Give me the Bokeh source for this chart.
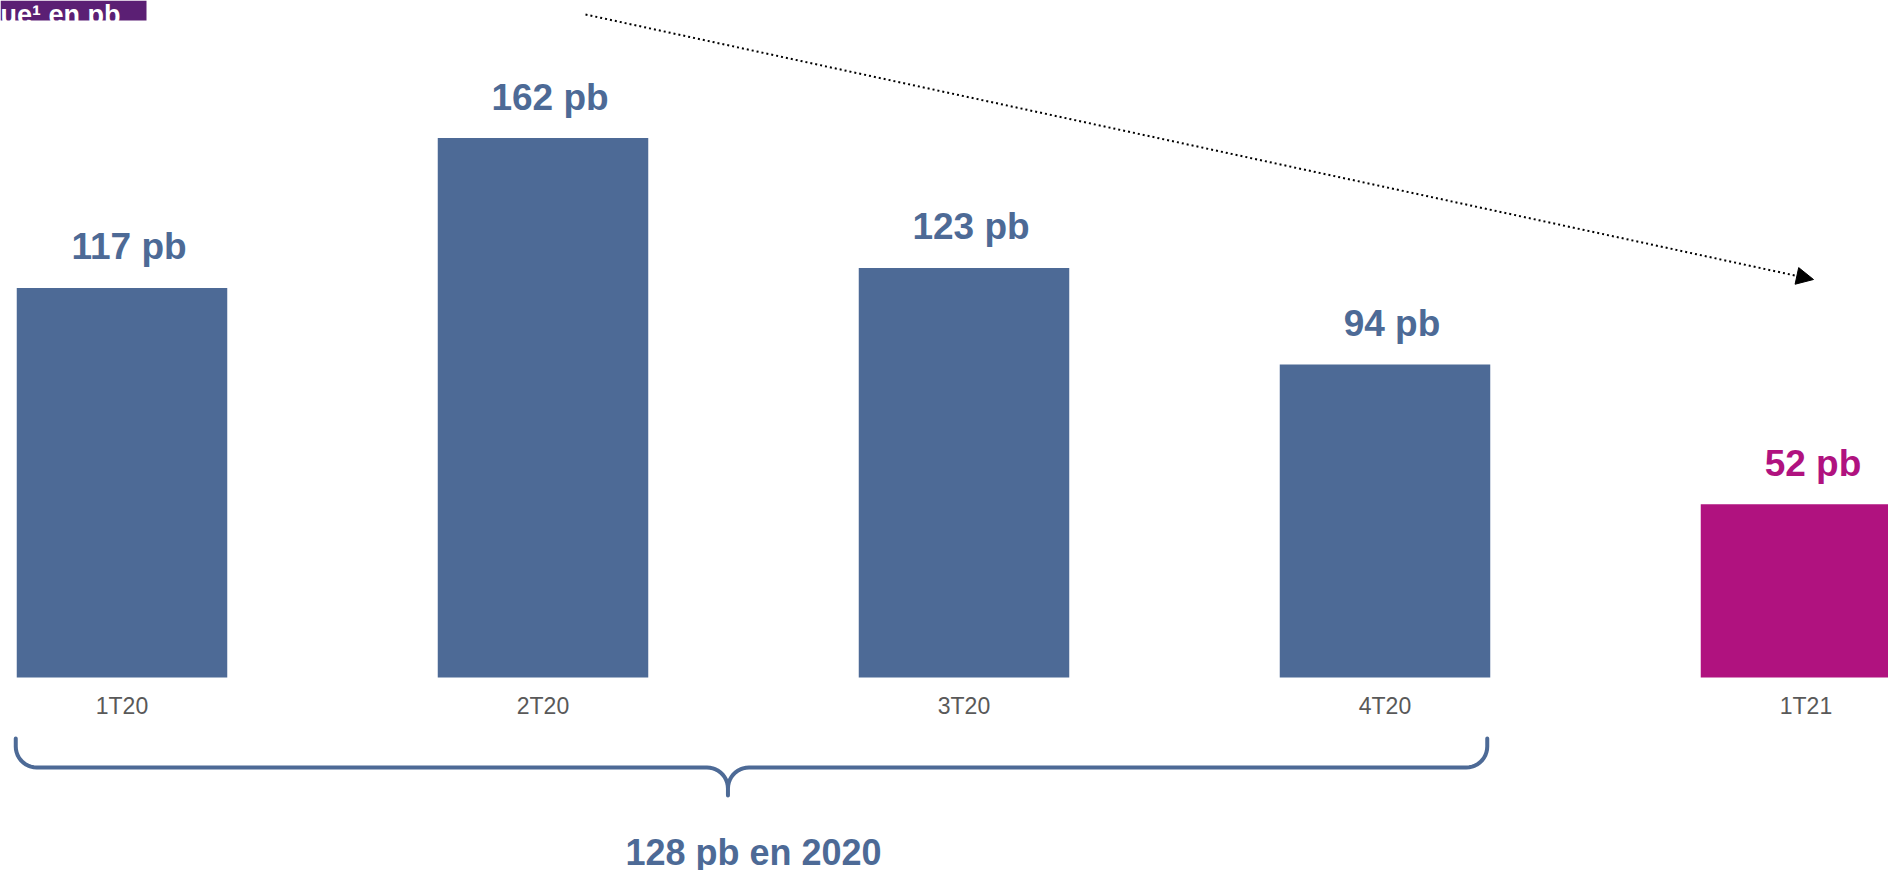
import numpy as np
from bokeh.plotting import figure
from bokeh.models import LinearAxis, FixedTicker, Arrow, NormalHead
from bokeh.core.properties import value
from bokeh.embed import file_html
from bokeh.resources import INLINE

# ---------------- data ----------------
categories = ["1T20", "2T20", "3T20", "4T20", "1T21"]
cost_of_risk = [117, 162, 123, 94, 52]
value_labels = ["117 pb", "162 pb", "123 pb", "94 pb", "52 pb"]
year_2020_total = 128
summary_label = f"{year_2020_total} pb en 2020"
title_text = "Coût du risque¹ en pb"

BLUE = "#4D6A96"
MAGENTA = "#B0127F"
PURPLE = "#5B1F74"
bar_colors = [BLUE, BLUE, BLUE, BLUE, MAGENTA]

# ---------------- layout constants ----------------
W, H = 1888, 870
PX_X = 421.0      # pixels per category step
PX_Y = 3.33       # pixels per pb
X0_PX = 121.5     # canvas px of first category center
BASE_PX = 677.0   # canvas px of y = 0
BAR_W = 0.5

x_start = -X0_PX / PX_X
x_end = (W - X0_PX) / PX_X
y_end = BASE_PX / PX_Y
y_start = -(H - BASE_PX) / PX_Y


def dx(px):
    return (px - X0_PX) / PX_X


def dy(py):
    return (BASE_PX - py) / PX_Y


idx = list(range(len(categories)))

p = figure(width=W, height=H, x_range=(x_start, x_end), y_range=(y_start, y_end),
           x_axis_type=None, y_axis_type=None, toolbar_location=None,
           output_backend="svg", min_border=0, outline_line_color=None)
p.grid.visible = False
p.background_fill_color = "white"
p.border_fill_color = "white"

# bars
p.vbar(x=idx, top=cost_of_risk, bottom=0, width=BAR_W, color=bar_colors, line_color=None)

# value labels
p.text(x=idx, y=cost_of_risk, text=value_labels, text_align="center",
       text_baseline="alphabetic", x_offset=7, y_offset=-41,
       text_font=value("Liberation Sans"), text_font_style="bold",
       text_font_size="37px", text_color=bar_colors)

# category axis at y = 0
ax = LinearAxis(fixed_location=0, ticker=FixedTicker(ticks=idx),
                major_label_overrides={i: c for i, c in zip(idx, categories)},
                axis_line_color=None, major_tick_line_color=None,
                minor_tick_line_color=None, major_label_text_font_size="23px",
                major_label_text_color="#595959",
                major_label_text_font="Liberation Sans",
                major_label_standoff=9)
p.add_layout(ax, "below")

# brace under the 2020 bars
xl = X0_PX + (idx[0] - BAR_W / 2) * PX_X - 1
xr = X0_PX + (idx[3] + BAR_W / 2) * PX_X - 3
tip = xl + 0.484 * (xr - xl)
y_top, y_line, y_tip, r = 738.0, 767.0, 795.0, 21.0
pts = []
pts.append((xl, y_top))
t = np.linspace(np.pi, np.pi / 2, 12)
pts += list(zip(xl + r + r * np.cos(t), y_line - r + r * np.sin(t)))
t = np.linspace(-np.pi / 2, 0, 12)
pts += list(zip(tip - r + r * np.cos(t), y_line + r + r * np.sin(t)))
pts.append((tip, y_tip))
t = np.linspace(np.pi, 3 * np.pi / 2, 12)
pts += list(zip(tip + r + r * np.cos(t), y_line + r + r * np.sin(t)))
t = np.linspace(np.pi / 2, 0, 12)
pts += list(zip(xr - r + r * np.cos(t), y_line - r + r * np.sin(t)))
pts.append((xr, y_top))
bx = [dx(a) for a, b in pts]
by = [dy(b) for a, b in pts]
p.line(bx, by, line_width=4, line_color=BLUE, line_cap="round", line_join="round")

# summary text
p.text(x=[(idx[0] + idx[3]) / 2], y=[dy(852)], text=[summary_label], text_align="center",
       text_baseline="alphabetic", text_font=value("Liberation Sans"),
       text_font_style="bold", text_font_size="36px", text_color=BLUE)

# dotted trend arrow
p.add_layout(Arrow(end=NormalHead(size=17, fill_color="black", line_color="black"),
                   x_start=dx(585), y_start=dy(14), x_end=dx(1813), y_end=dy(279),
                   line_color="black", line_width=2, line_dash="2 3"))

# title box (cut at top-left), drawn as a glyph so its text sits on top
p.quad(left=[x_start], right=[dx(146)], top=[y_end], bottom=[dy(20)],
       fill_color=PURPLE, line_color=None)
p.text(x=[dx(120)], y=[dy(14)], text=[title_text], text_align="right",
       text_baseline="alphabetic", text_font=value("Liberation Sans"),
       text_font_style="bold", text_font_size="27px", text_color="white")

open("out.html", "w").write(file_html(p, INLINE))
